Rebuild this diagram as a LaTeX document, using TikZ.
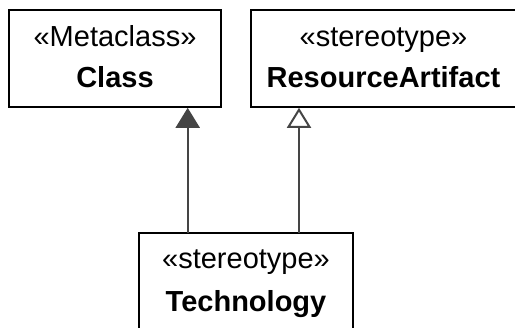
\documentclass[tikz,border=0pt]{standalone}
\usepackage{fontspec}
\setmainfont{Liberation Sans}
\usetikzlibrary{arrows.meta}
\definecolor{linegray}{HTML}{454545}
\begin{document}
\begin{tikzpicture}[x=1pt,y=-1pt,
  box/.style={draw=black, line width=2pt, fill=white, inner sep=0pt},
  stereo/.style={anchor=base, inner sep=0pt, font=\fontsize{29}{34}\selectfont},
  cname/.style={anchor=base, inner sep=0pt, font=\fontsize{29}{34}\selectfont\bfseries},
  gen/.style={draw=linegray, line width=2pt},
  filledtip/.style={-{Triangle[width=24pt,length=20pt,fill=linegray]}},
  opentip/.style={-{Triangle[open,width=24pt,length=20pt,fill=white]}}]
\useasboundingbox[clip] (0,0) rectangle (515,328);
\fill[white] (0,0) rectangle (515,328);
% boxes
\node[box, minimum width=212pt, minimum height=97pt] (cls) at (115.3,58.3) {};
\node[box, minimum width=265pt, minimum height=97pt] (res) at (383.5,58.3) {};
\node[box, minimum width=213.5pt, minimum height=120pt] (tech) at (246,293) {};
% texts
\node[stereo] (cls-st) at (115,47) {«Metaclass»};
\node[cname] (cls-nm) at (115,88) {Class};
\node[stereo] (res-st) at (383.5,47) {«stereotype»};
\node[cname] (res-nm) at (383.5,88) {ResourceArtifact};
\node[stereo] (tech-st) at (246,269) {«stereotype»};
\node[cname] (tech-nm) at (246,312) {Technology};
% connectors
\coordinate (a1) at (187.7,233);
\coordinate (a2) at (299,233);
\draw[gen, filledtip] (a1) -- (a1 |- cls.south);
\draw[gen, opentip] (a2) -- (a2 |- res.south);
\end{tikzpicture}
\end{document}
